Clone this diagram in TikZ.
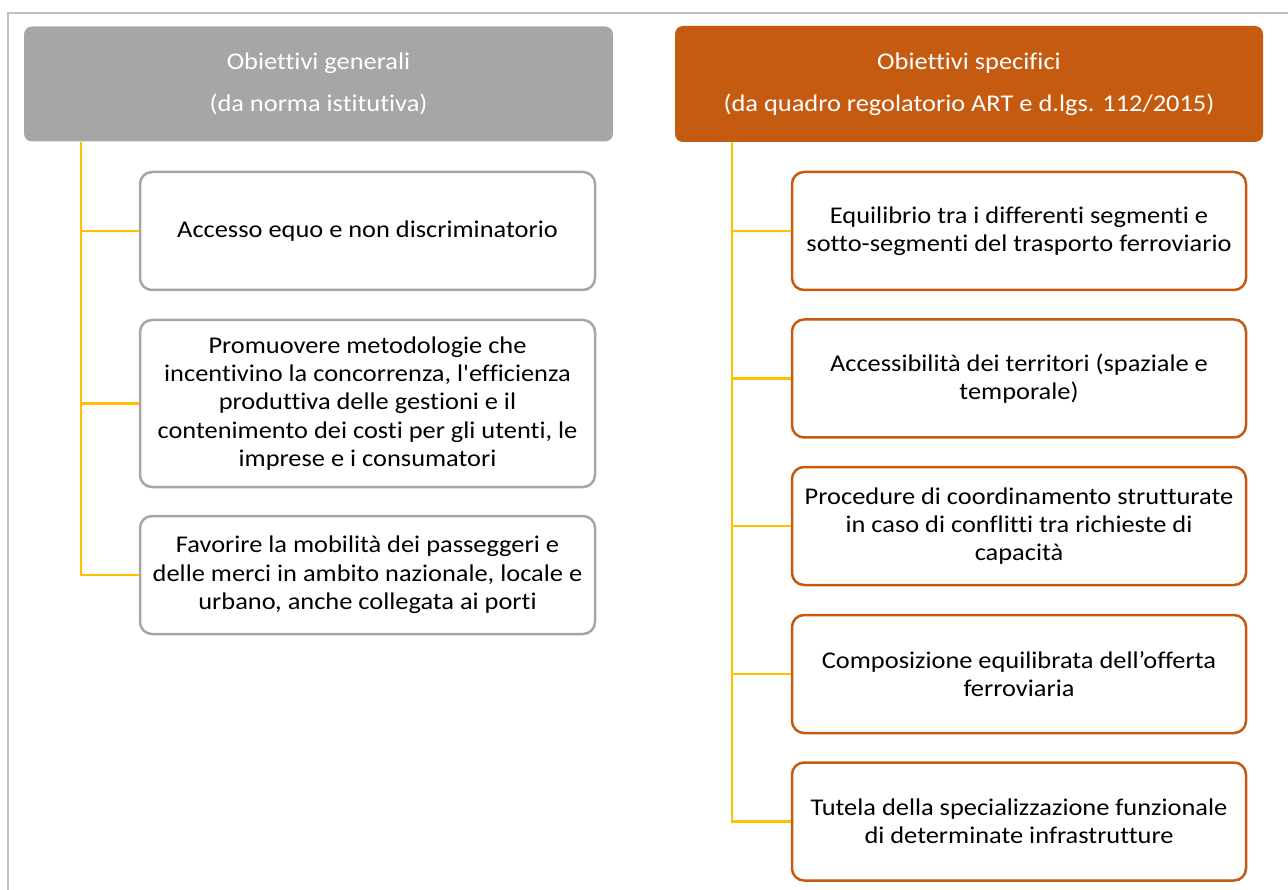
\documentclass[tikz,border=0pt]{standalone}
\usepackage{fontspec}
\newfontfamily\calfont{Carlito}[Ligatures={NoCommon}, FakeStretch=1.1]
\definecolor{orng}{HTML}{C55A11}
\definecolor{hgray}{HTML}{A6A6A6}
\definecolor{ylw}{HTML}{FFC000}
\definecolor{frm}{HTML}{BFBFBF}
\tikzset{
  hdr/.style={rectangle, rounded corners=8pt, text=white, align=center, font=\calfont\fontsize{24}{42}\selectfont},
  lbox/.style={rectangle, rounded corners=12pt, draw=hgray, line width=2.5pt, fill=white, align=center, minimum width=455pt, minimum height=118pt, font=\calfont\fontsize{24}{28.3}\selectfont},
  rbox/.style={rectangle, rounded corners=12pt, draw=orng, line width=2.5pt, fill=white, align=center, minimum width=454pt, minimum height=118pt, font=\calfont\fontsize{24}{28.3}\selectfont},
  conn/.style={draw=ylw, line width=2.5pt},
  frame/.style={draw=frm, line width=2pt}
}
\begin{document}
\begin{tikzpicture}[x=1pt,y=-1pt]
\useasboundingbox (0,0) rectangle (1288,890);
\draw[frame] (8,890) -- (8,13) -- (1288,13);

\node[hdr, fill=hgray, minimum width=589pt, minimum height=115pt] (lh) at (318.5,84) {Obiettivi generali\\(da norma istitutiva)};
\node[hdr, fill=orng, minimum width=588pt, minimum height=116pt] (rh) at (969,84) {Obiettivi specifici\\(da quadro regolatorio ART e d.lgs. 112/2015)};

\node[lbox] (l1) at (367.5,231) {Accesso equo e non discriminatorio};
\node[lbox, minimum height=167pt] (l2) at (367.5,403.5) {Promuovere metodologie che\\incentivino la concorrenza, l'efficienza\\produttiva delle gestioni e il\\contenimento dei costi per gli utenti, le\\imprese e i consumatori};
\node[lbox] (l3) at (367.5,575) {Favorire la mobilità dei passeggeri e\\delle merci in ambito nazionale, locale e\\urbano, anche collegata ai porti};

\node[rbox] (r1) at (1019,231) {Equilibrio tra i differenti segmenti e\\sotto-segmenti del trasporto ferroviario};
\node[rbox] (r2) at (1019,378.5) {Accessibilità dei territori (spaziale e\\temporale)};
\node[rbox] (r3) at (1019,526) {Procedure di coordinamento strutturate\\in caso di conflitti tra richieste di\\capacità};
\node[rbox] (r4) at (1019,674) {Composizione equilibrata dell’offerta\\ferroviaria};
\node[rbox] (r5) at (1019,821.5) {Tutela della specializzazione funzionale\\di determinate infrastrutture};

\coordinate (ltop) at (81,142);
\coordinate (rtop) at (732,142);
\draw[conn] (ltop) |- (l3.west);
\draw[conn] (ltop |- l1.west) -- (l1.west);
\draw[conn] (ltop |- l2.west) -- (l2.west);
\draw[conn] (rtop) |- (r5.west);
\draw[conn] (rtop |- r1.west) -- (r1.west);
\draw[conn] (rtop |- r2.west) -- (r2.west);
\draw[conn] (rtop |- r3.west) -- (r3.west);
\draw[conn] (rtop |- r4.west) -- (r4.west);
\end{tikzpicture}
\end{document}
